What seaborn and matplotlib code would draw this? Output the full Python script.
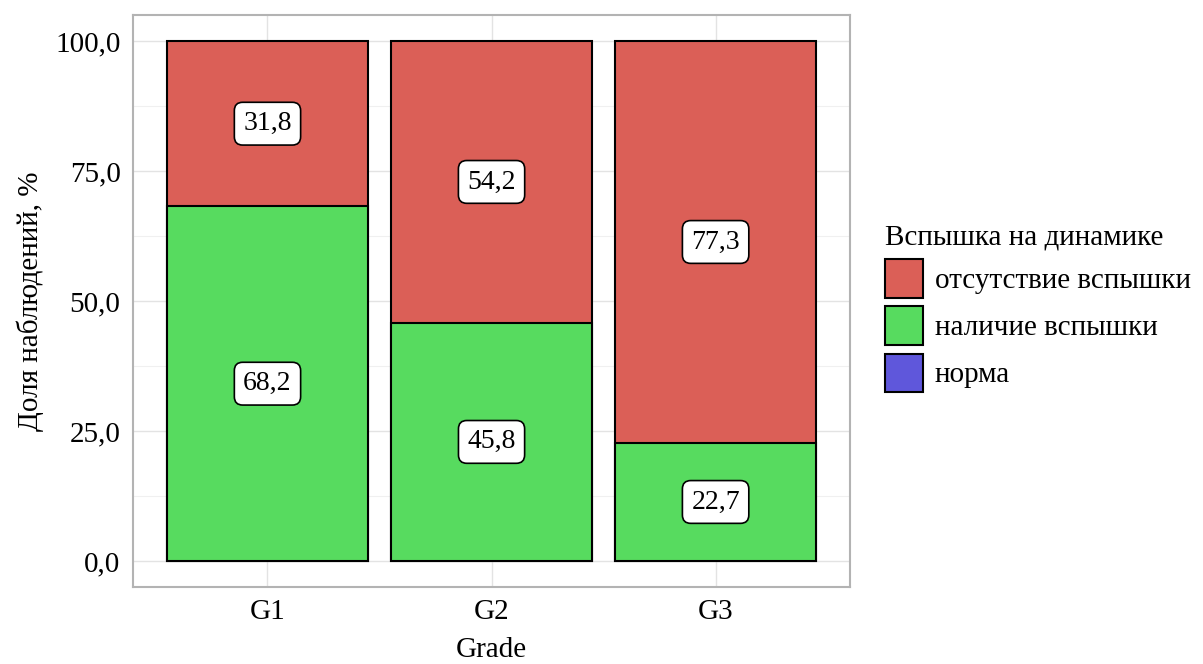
import matplotlib
matplotlib.use("Agg")
import matplotlib.pyplot as plt
from matplotlib.patches import Patch
from matplotlib.ticker import MultipleLocator
import numpy as np
import pandas as pd
import seaborn as sns

# data
grades = ["G1", "G2", "G3"]
no_flash = [31.8, 54.2, 77.3]      # отсутствие вспышки
flash = [68.2, 45.8, 22.7]         # наличие вспышки
norm = [0.0, 0.0, 0.0]             # норма
levels = ["отсутствие вспышки", "наличие вспышки", "норма"]
yticks = [0, 25, 50, 75, 100]

sns.set_style("white")
plt.rcParams['font.family'] = ['Liberation Serif', 'DejaVu Serif']
plt.rcParams['font.size'] = 21
plt.rcParams['text.color'] = 'black'
plt.rcParams['axes.labelcolor'] = 'black'

pal = sns.color_palette("hls", 3)
red, green, blue = pal[0], pal[1], pal[2]

df = pd.DataFrame({"Grade": grades, "no": no_flash, "yes": flash, "norm": norm})
df["total"] = df["no"] + df["yes"] + df["norm"]

fig = plt.figure(figsize=(12.03, 6.64), dpi=100)
ax = fig.add_axes([0.1106, 0.116, 0.596, 0.8614])

# total height in red, green drawn over the bottom part
sns.barplot(data=df, x="Grade", y="total", color=red, saturation=1,
            width=0.9, edgecolor="black", linewidth=1.5, ax=ax, zorder=3)
sns.barplot(data=df, x="Grade", y="yes", color=green, saturation=1,
            width=0.9, edgecolor="black", linewidth=1.5, ax=ax, zorder=3)

# value labels in rounded boxes
for i, row in df.iterrows():
    for val, mid in [(row["yes"], row["yes"] / 2),
                     (row["no"], row["yes"] + row["no"] / 2)]:
        ax.text(i, mid, f"{val:.1f}".replace(".", ","), ha="center", va="center",
                fontsize=20, color="black", zorder=5,
                bbox=dict(boxstyle="round,pad=0.32,rounding_size=0.3",
                          fc="white", ec="black", lw=1.2))

ax.set_xlim(-0.6, 2.6)
ax.set_ylim(-5, 105)
ax.set_yticks(yticks)
ax.set_yticklabels([f"{t:.1f}".replace(".", ",") for t in yticks])
ax.yaxis.set_minor_locator(MultipleLocator(12.5))
ax.grid(True, which="major", color="#e3e3e3", lw=1.0, zorder=0)
ax.grid(True, which="minor", axis="y", color="#f0f0f0", lw=0.8, zorder=0)
ax.set_axisbelow(True)
for s in ax.spines.values():
    s.set_color("#b3b3b3")
    s.set_linewidth(1.5)
ax.tick_params(axis="both", which="major", length=5, color="#b3b3b3", width=1.2,
               labelsize=21, labelcolor="black", pad=4)
ax.tick_params(axis="y", which="minor", length=0)
ax.set_xlabel("Grade", fontsize=21, labelpad=8)
ax.set_ylabel("Доля наблюдений, %", fontsize=21, labelpad=8)

handles = [Patch(facecolor=c, edgecolor="black", lw=1.5) for c in (red, green, blue)]
leg = fig.legend(handles, levels, title="Вспышка на динамике", loc="upper left",
                 bbox_to_anchor=(0.736, 0.662), frameon=False, fontsize=21,
                 title_fontsize=21, handlelength=1.3, handleheight=1.65,
                 handletextpad=0.4, labelspacing=0.3, borderaxespad=0,
                 borderpad=0)
leg._legend_box.align = "left"

fig.savefig("out.png", dpi=100)
